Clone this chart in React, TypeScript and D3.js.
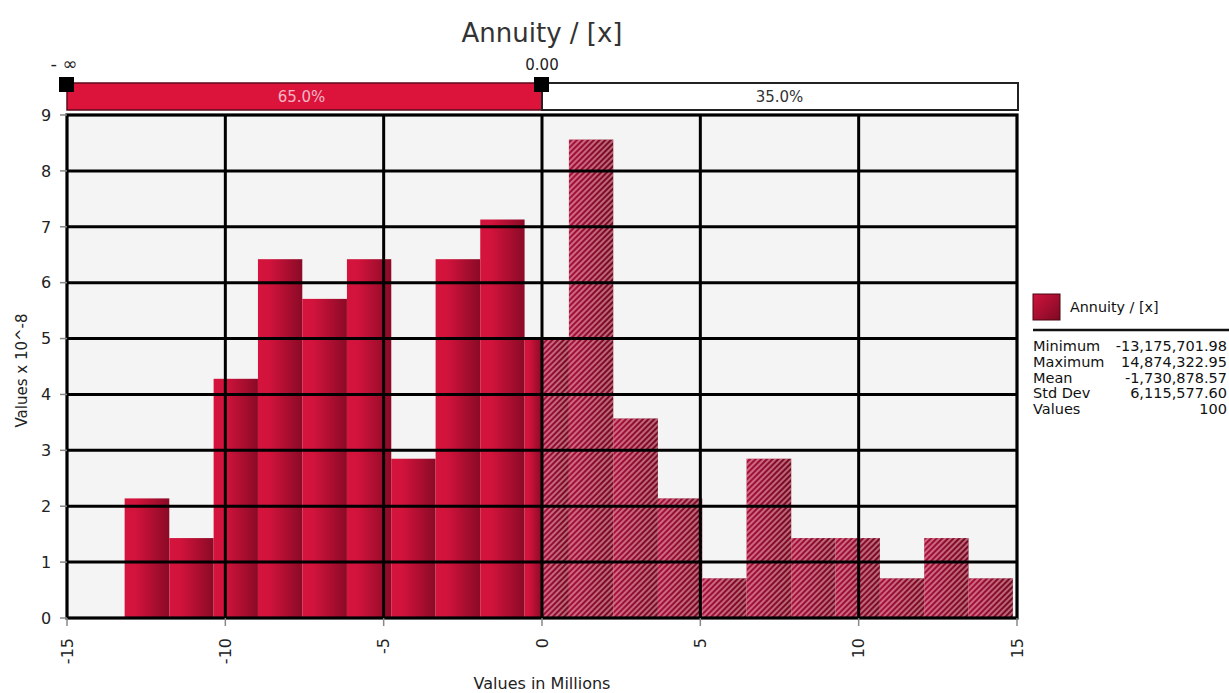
import { useEffect, useRef } from "react";
import * as d3 from "d3";

// histogram bins (values in millions) and bar heights (values x 10^-8)
const binEdges = [
  -13.18, -11.77, -10.37, -8.97, -7.57, -6.16, -4.76, -3.36, -1.95, -0.55,
  0.85, 2.25, 3.66, 5.06, 6.46, 7.87, 9.27, 10.67, 12.07, 13.47, 14.87,
];
const densities = [
  2.14, 1.43, 4.28, 6.42, 5.71, 6.42, 2.85, 6.42, 7.13, 4.99, 8.56, 3.57,
  2.14, 0.71, 2.85, 1.43, 1.43, 0.71, 1.43, 0.71,
];
const xTicks = [-15, -10, -5, 0, 5, 10, 15];
const yTicks = [0, 1, 2, 3, 4, 5, 6, 7, 8, 9];
const splitValue = 0;
const splitLabels = ["- \u221e", "0.00"];
const shareLabels = ["65.0%", "35.0%"];
const statLabels = ["Minimum", "Maximum", "Mean", "Std Dev", "Values"];
const statValues = [
  "-13,175,701.98",
  "14,874,322.95",
  "-1,730,878.57",
  "6,115,577.60",
  "100",
];
const title = "Annuity / [x]";

const FONT = "'DejaVu Sans', Verdana, sans-serif";

export default function App() {
  const svgRef = useRef<SVGSVGElement>(null);

  useEffect(() => {
    if (!svgRef.current) return;
    const width = 1229;
    const height = 693;
    const left = 67;
    const right = 1017;
    const top = 115;
    const bottom = 618;

    d3.select(svgRef.current).selectAll("*").remove();
    const svg = d3
      .select(svgRef.current)
      .attr("width", width)
      .attr("height", height)
      .attr("viewBox", `0 0 ${width} ${height}`);

    const x = d3.scaleLinear().domain([-15, 15]).range([left, right]);
    const y = d3.scaleLinear().domain([0, 9]).range([bottom, top]);

    // defs: bar gradient + hatch
    const defs = svg.append("defs");
    const grad = defs
      .append("linearGradient")
      .attr("id", "barGrad")
      .attr("x1", 0)
      .attr("x2", 1)
      .attr("y1", 0)
      .attr("y2", 0);
    grad.append("stop").attr("offset", "0%").attr("stop-color", "#d4143d");
    grad.append("stop").attr("offset", "25%").attr("stop-color", "#d2133c");
    grad.append("stop").attr("offset", "100%").attr("stop-color", "#8a0a26");

    const hgrad = defs
      .append("linearGradient")
      .attr("id", "hatchGrad")
      .attr("x1", 0)
      .attr("x2", 1)
      .attr("y1", 0)
      .attr("y2", 0);
    hgrad.append("stop").attr("offset", "0%").attr("stop-color", "#a8103a");
    hgrad.append("stop").attr("offset", "100%").attr("stop-color", "#740920");

    const hatch = defs
      .append("pattern")
      .attr("id", "hatch")
      .attr("patternUnits", "userSpaceOnUse")
      .attr("width", 4)
      .attr("height", 4)
      .attr("patternTransform", "rotate(45)");
    hatch
      .append("line")
      .attr("x1", 1)
      .attr("x2", 1)
      .attr("y1", 0)
      .attr("y2", 4)
      .attr("stroke", "#f8c2cf")
      .attr("stroke-width", 1);

    // plot background
    svg
      .append("rect")
      .attr("x", left)
      .attr("y", top)
      .attr("width", right - left)
      .attr("height", bottom - top)
      .attr("fill", "#f4f4f4");

    // bars, split at the delimiter value
    const segments: { a: number; b: number; v: number; hatched: boolean }[] =
      [];
    densities.forEach((v, i) => {
      const a = binEdges[i];
      const b = binEdges[i + 1];
      if (a < splitValue)
        segments.push({ a, b: Math.min(b, splitValue), v, hatched: false });
      if (b > splitValue)
        segments.push({ a: Math.max(a, splitValue), b, v, hatched: true });
    });

    const bars = svg.append("g");
    bars
      .selectAll("rect.bar")
      .data(segments)
      .enter()
      .append("rect")
      .attr("class", "bar")
      .attr("x", (d) => x(d.a))
      .attr("y", (d) => y(d.v))
      .attr("width", (d) => x(d.b) - x(d.a))
      .attr("height", (d) => y(0) - y(d.v))
      .attr("fill", (d) => (d.hatched ? "url(#hatchGrad)" : "url(#barGrad)"));
    bars
      .selectAll("rect.hatch")
      .data(segments.filter((d) => d.hatched))
      .enter()
      .append("rect")
      .attr("class", "hatch")
      .attr("x", (d) => x(d.a))
      .attr("y", (d) => y(d.v))
      .attr("width", (d) => x(d.b) - x(d.a))
      .attr("height", (d) => y(0) - y(d.v))
      .attr("fill", "url(#hatch)");

    // grid on top of bars
    const grid = svg.append("g").attr("stroke", "#000").attr("stroke-width", 3);
    grid
      .selectAll("line.h")
      .data(yTicks.filter((t) => t > 0 && t < 9))
      .enter()
      .append("line")
      .attr("x1", left)
      .attr("x2", right)
      .attr("y1", (d) => y(d))
      .attr("y2", (d) => y(d));
    grid
      .selectAll("line.v")
      .data(xTicks.filter((t) => t > -15 && t < 15))
      .enter()
      .append("line")
      .attr("x1", (d) => x(d))
      .attr("x2", (d) => x(d))
      .attr("y1", top)
      .attr("y2", bottom);
    svg
      .append("rect")
      .attr("x", left)
      .attr("y", top)
      .attr("width", right - left)
      .attr("height", bottom - top)
      .attr("fill", "none")
      .attr("stroke", "#000")
      .attr("stroke-width", 3.2);

    // y axis
    const yAxis = svg.append("g");
    yAxis
      .selectAll("line")
      .data(yTicks)
      .enter()
      .append("line")
      .attr("x1", left - 7)
      .attr("x2", left)
      .attr("y1", (d) => y(d))
      .attr("y2", (d) => y(d))
      .attr("stroke", "#888")
      .attr("stroke-width", 1.5);
    yAxis
      .selectAll("text")
      .data(yTicks)
      .enter()
      .append("text")
      .attr("x", 46)
      .attr("y", (d) => y(d))
      .attr("dy", "0.36em")
      .attr("text-anchor", "middle")
      .attr("font-family", FONT)
      .attr("font-size", 16)
      .attr("fill", "#222")
      .text((d) => d);
    svg
      .append("text")
      .attr("transform", `translate(27,${(top + bottom) / 2 + 4}) rotate(-90)`)
      .attr("text-anchor", "middle")
      .attr("font-family", FONT)
      .attr("font-size", 15)
      .attr("fill", "#222")
      .text("Values x 10^-8");

    // x axis
    const xAxis = svg.append("g");
    xAxis
      .selectAll("line")
      .data(xTicks)
      .enter()
      .append("line")
      .attr("x1", (d) => x(d))
      .attr("x2", (d) => x(d))
      .attr("y1", bottom)
      .attr("y2", bottom + 8)
      .attr("stroke", "#888")
      .attr("stroke-width", 1.5);
    xAxis
      .selectAll("text")
      .data(xTicks)
      .enter()
      .append("text")
      .attr("transform", (d) => `translate(${x(d)},${bottom + 20}) rotate(-90)`)
      .attr("dy", "0.36em")
      .attr("text-anchor", "end")
      .attr("font-family", FONT)
      .attr("font-size", 16)
      .attr("fill", "#222")
      .text((d) => d);
    svg
      .append("text")
      .attr("x", x(0))
      .attr("y", 689)
      .attr("text-anchor", "middle")
      .attr("font-family", FONT)
      .attr("font-size", 16)
      .attr("fill", "#222")
      .text("Values in Millions");

    // delimiter bar on top
    const barTop = 83;
    const barH = 27;
    svg
      .append("rect")
      .attr("x", x(-15))
      .attr("y", barTop)
      .attr("width", x(splitValue) - x(-15))
      .attr("height", barH)
      .attr("fill", "#dc143c")
      .attr("stroke", "#5c0a1a")
      .attr("stroke-width", 1.5);
    svg
      .append("rect")
      .attr("x", x(splitValue))
      .attr("y", barTop)
      .attr("width", x(15) + 1 - x(splitValue))
      .attr("height", barH)
      .attr("fill", "#fff")
      .attr("stroke", "#222")
      .attr("stroke-width", 2);
    svg
      .append("text")
      .attr("x", (x(-15) + x(splitValue)) / 2 - 3)
      .attr("y", barTop + barH / 2)
      .attr("dy", "0.36em")
      .attr("text-anchor", "middle")
      .attr("font-family", FONT)
      .attr("font-size", 15)
      .attr("fill", "#f6b6c4")
      .text(shareLabels[0]);
    svg
      .append("text")
      .attr("x", (x(splitValue) + x(15)) / 2)
      .attr("y", barTop + barH / 2)
      .attr("dy", "0.36em")
      .attr("text-anchor", "middle")
      .attr("font-family", FONT)
      .attr("font-size", 15)
      .attr("fill", "#333")
      .text(shareLabels[1]);

    const markerXs = [x(-15), x(splitValue)];
    svg
      .selectAll("rect.marker")
      .data(markerXs)
      .enter()
      .append("rect")
      .attr("class", "marker")
      .attr("x", (d) => d - 8)
      .attr("y", 77)
      .attr("width", 15)
      .attr("height", 15)
      .attr("fill", "#000");
    svg
      .selectAll("text.marker")
      .data(markerXs)
      .enter()
      .append("text")
      .attr("class", "marker")
      .attr("x", (d, i) => d + (i === 0 ? -3 : 0))
      .attr("y", 70)
      .attr("text-anchor", "middle")
      .attr("font-family", FONT)
      .attr("font-size", (d, i) => (i === 0 ? 18 : 15))
      .attr("fill", "#222")
      .text((d, i) => splitLabels[i]);

    // title
    svg
      .append("text")
      .attr("x", x(0))
      .attr("y", 42)
      .attr("text-anchor", "middle")
      .attr("font-family", FONT)
      .attr("font-size", 26)
      .attr("fill", "#333")
      .text(title);

    // legend + stats
    const lg = svg.append("g");
    const sw = lg
      .append("defs")
      .append("linearGradient")
      .attr("id", "swGrad")
      .attr("x1", 0)
      .attr("x2", 1)
      .attr("y1", 0)
      .attr("y2", 1);
    sw.append("stop").attr("offset", "0%").attr("stop-color", "#d0143e");
    sw.append("stop").attr("offset", "100%").attr("stop-color", "#7e0922");
    lg.append("rect")
      .attr("x", 1033)
      .attr("y", 294)
      .attr("width", 27)
      .attr("height", 26)
      .attr("fill", "url(#swGrad)")
      .attr("stroke", "#4a0612")
      .attr("stroke-width", 1);
    lg.append("text")
      .attr("x", 1070)
      .attr("y", 312)
      .attr("font-family", FONT)
      .attr("font-size", 14.3)
      .attr("fill", "#111")
      .text(title);
    lg.append("line")
      .attr("x1", 1033)
      .attr("x2", 1229)
      .attr("y1", 330)
      .attr("y2", 330)
      .attr("stroke", "#111")
      .attr("stroke-width", 2.5);
    lg.selectAll("text.lab")
      .data(statLabels)
      .enter()
      .append("text")
      .attr("class", "lab")
      .attr("x", 1033)
      .attr("y", (d, i) => 351 + i * 15.8)
      .attr("font-family", FONT)
      .attr("font-size", 14.5)
      .attr("fill", "#111")
      .text((d) => d);
    lg.selectAll("text.val")
      .data(statValues)
      .enter()
      .append("text")
      .attr("class", "val")
      .attr("x", 1227)
      .attr("y", (d, i) => 351 + i * 15.8)
      .attr("text-anchor", "end")
      .attr("font-family", FONT)
      .attr("font-size", 14.5)
      .attr("fill", "#111")
      .text((d) => d);
  }, []);

  return (
    <svg
      ref={svgRef}
      style={{ position: "absolute", left: 0, top: 0, display: "block", background: "#fff" }}
    />
  );
}
